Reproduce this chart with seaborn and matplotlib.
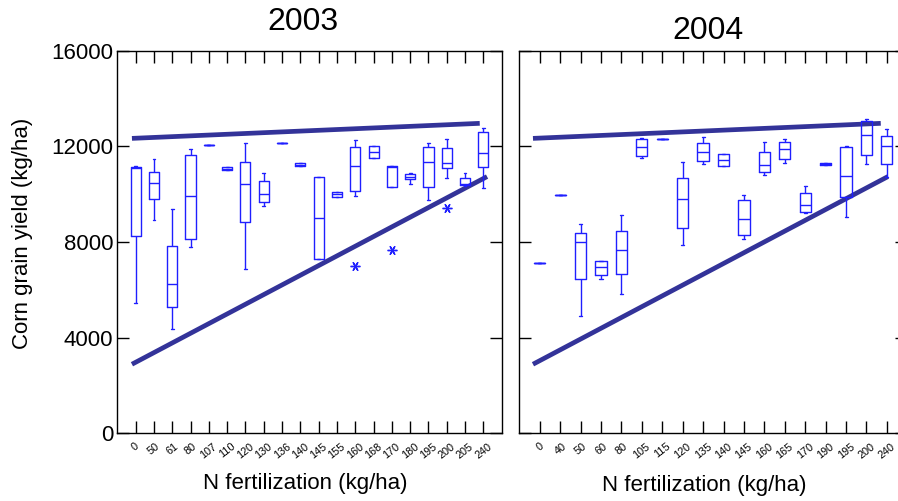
import numpy as np
import pandas as pd
import matplotlib
matplotlib.use("Agg")
import matplotlib.pyplot as plt
import seaborn as sns

# ---------------- data ----------------
n03 = ["0", "50", "61", "80", "107", "110", "120", "130", "136", "140",
       "145", "155", "160", "168", "170", "180", "195", "200", "205", "240"]
lo03 = [5430, 8910, 4360, 7800, 12060, 11020, 6880, 9510, 12160, 11180,
        7290, 9900, 9940, 11530, 10300, 10420, 9760, 10690, 10340, 10280]
q1_03 = [8270, 9790, 5260, 8130, 12060, 11020, 8850, 9660, 12160, 11180,
         7290, 9900, 10150, 11530, 10300, 10620, 10320, 11090, 10390, 11150]
med03 = [11100, 10480, 6230, 9930, 12060, 11070, 10440, 10020, 12160, 11240,
         8990, 10000, 11180, 11780, 11130, 10740, 11340, 11300, 10430, 11720]
q3_03 = [11150, 10920, 7830, 11640, 12060, 11130, 11340, 10540, 12160, 11300,
         10740, 10110, 11970, 12030, 11200, 10830, 11970, 11920, 10670, 12620]
hi03 = [11200, 11460, 9400, 11880, 12060, 11130, 12130, 10900, 12160, 11300,
        10740, 10110, 12270, 12030, 11200, 10900, 12130, 12310, 10900, 12760]
out03 = {"160": 7000, "170": 7670, "200": 9410}

n04 = ["0", "40", "50", "60", "80", "105", "115", "120", "135", "140",
       "145", "160", "165", "170", "190", "195", "200", "240"]
lo04 = [7130, 9970, 4910, 6460, 5820, 11520, 12310, 7890, 11270, 11170,
        8140, 10810, 11310, 9220, 11230, 9050, 11280, 10740]
q1_04 = [7130, 9970, 6460, 6600, 6670, 11590, 12310, 8570, 11400, 11170,
         8280, 10930, 11490, 9270, 11230, 9870, 11630, 11280]
med04 = [7130, 9970, 7990, 6970, 7680, 11970, 12310, 9820, 11770, 11420,
         8980, 11230, 11910, 9540, 11270, 10750, 12480, 12020]
q3_04 = [7130, 9970, 8360, 7190, 8480, 12300, 12310, 10670, 12150, 11690,
         9760, 11770, 12200, 10040, 11310, 11990, 13070, 12430]
hi04 = [7130, 9970, 8750, 7220, 9130, 12340, 12310, 11340, 12390, 11690,
        9980, 12180, 12310, 10360, 11310, 12030, 13150, 12750]
out04 = {}

# reference lines (x in category-position units, y in kg/ha)
up03_x = [-0.2, 18.8]
up03_y = [12340, 12970]
low03_x = [-0.2, 19.2]
low03_y = [2880, 10740]
up04_x = [-0.33, 16.7]
up04_y = [12340, 12970]
low04_x = [-0.33, 17.05]
low04_y = [2880, 10740]

yticks = [0, 4000, 8000, 12000, 16000]


def build_frame(names, lo, q1, med, q3, hi, outliers):
    rows = []
    for i, n in enumerate(names):
        if n in outliers:
            vals = [outliers[n], lo[i], q1[i], q1[i], med[i], q3[i], q3[i], hi[i], hi[i]]
        else:
            vals = [lo[i], q1[i], med[i], q3[i], hi[i]]
        rows += [(n, v) for v in vals]
    return pd.DataFrame(rows, columns=["N", "yield"])


df03 = build_frame(n03, lo03, q1_03, med03, q3_03, hi03, out03)
df04 = build_frame(n04, lo04, q1_04, med04, q3_04, hi04, out04)

# ---------------- style ----------------
sns.set_style("white")
plt.rcParams["font.family"] = ["Liberation Sans", "DejaVu Sans"]
plt.rcParams["text.color"] = "black"
plt.rcParams["axes.labelcolor"] = "black"
plt.rcParams["xtick.color"] = "black"
plt.rcParams["ytick.color"] = "black"

W, H = 898, 501
fig = plt.figure(figsize=(W / 100, H / 100), dpi=100)
ax1 = fig.add_axes([117.3 / W, (H - 433) / H, 384.4 / W, 382 / H])
ax2 = fig.add_axes([519.3 / W, (H - 433) / H, 388.0 / W, 382 / H])

box_color = "#1f1fff"
line_color = "#333399"

for ax, df, names, lines in [
    (ax1, df03, n03, [(up03_x, up03_y), (low03_x, low03_y)]),
    (ax2, df04, n04, [(up04_x, up04_y), (low04_x, low04_y)]),
]:
    sns.boxplot(
        data=df, x="N", y="yield", order=names, ax=ax,
        width=0.55, fill=False, color=box_color, linewidth=1.0,
        whis=1.5, capwidths=0.15,
        flierprops=dict(marker=(6, 2, 90), markersize=7,
                        markeredgecolor=box_color, markeredgewidth=1.0),
    )
    for lx, ly in lines:
        ax.plot(lx, ly, color=line_color, lw=3.4, solid_capstyle="butt", zorder=1)
    ax.set_xlim(-1, len(names))
    ax.set_ylim(0, 16000)
    ax.set_yticks(yticks)
    ax.set_xticks(range(len(names)))
    ax.set_xticklabels(names, rotation=38, ha="center", fontsize=7.8,
                       color="black")
    ax.set_xlabel("")
    ax.set_ylabel("")
    ax.tick_params(axis="both", direction="in", length=8.6, width=1.0,
                   top=True, right=True, bottom=True, left=True, color="black")
    ax.tick_params(axis="x", pad=6)
    ax.tick_params(axis="y", pad=3, labelsize=16, labelcolor="black")
    for s in ax.spines.values():
        s.set_visible(True)
        s.set_color("black")
        s.set_linewidth(1.0)

ax2.tick_params(axis="y", labelleft=False)

fig.text(303 / W, 1 - 22 / H, "2003", fontsize=23, ha="center", va="center")
fig.text(708 / W, 1 - 31 / H, "2004", fontsize=23, ha="center", va="center")
fig.text(305 / W, 1 - 484 / H, "N fertilization (kg/ha)", fontsize=16,
         ha="center", va="center")
fig.text(704 / W, 1 - 486 / H, "N fertilization (kg/ha)", fontsize=16,
         ha="center", va="center")
fig.text(23 / W, 1 - 233 / H, "Corn grain yield (kg/ha)", fontsize=16,
         rotation=90, ha="center", va="center")

fig.savefig("out.png", dpi=100)
